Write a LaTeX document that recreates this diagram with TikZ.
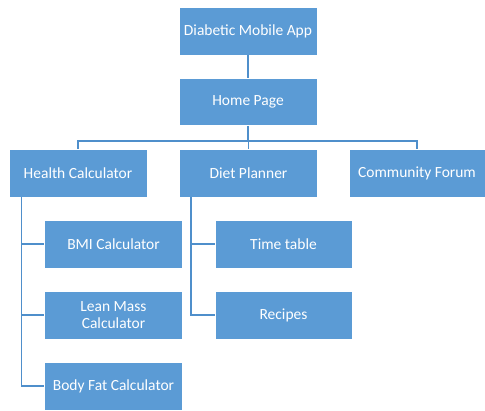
\documentclass[tikz,border=0pt]{standalone}
\usepackage{fontspec}
\setmainfont{Carlito}
\definecolor{boxblue}{HTML}{5B9BD5}
\definecolor{lineblue}{HTML}{4F8FCB}
\tikzset{
  chartbox/.style={rectangle, fill=boxblue, draw=white, line width=0.8pt,
    text=white, font=\fontsize{15.5}{17}\selectfont, align=center,
    minimum width=138pt, minimum height=48pt, inner sep=1pt},
  link/.style={lineblue, line width=1.3pt}
}
\begin{document}
\begin{tikzpicture}[x=1pt,y=-1pt]
    \useasboundingbox (0,0) rectangle (485,410);
    % Top of the chart
    \node[chartbox] (app) at (248,31) {Diabetic Mobile App};
    \node[chartbox, minimum height=47pt] (home) at (248,102) {Home Page};
    % Second row
    \node[chartbox] (health) at (78,173) {Health Calculator};
    \node[chartbox] (diet) at (248.5,173) {Diet Planner};
    \node[chartbox, minimum width=136pt] (forum) at (417,173) {Community Forum};
    % Calculators under health
    \node[chartbox] (bmi) at (113.5,244) {BMI Calculator};
    \node[chartbox] (lean) at (113.5,315) {Lean Mass\\Calculator};
    \node[chartbox] (fat) at (113.5,386) {Body Fat Calculator};
    % Pages under diet planner
    \node[chartbox, minimum width=137pt] (time) at (283.5,244) {Time table};
    \node[chartbox, minimum width=137pt] (recipes) at (283.5,315) {Recipes};
    % Vertical links and the bus line
    \coordinate (bus) at (0,141);
    \draw[link] (app) -- (home);
    \draw[link] (home) -- (home |- bus);
    \draw[link] (health.north) -- (health |- bus) -| (forum.north);
    \draw[link] (diet.north) -- (diet |- bus);
    % Trunk lines on the left side of each group
    \coordinate (htrunk) at ([xshift=13pt]health.south west);
    \coordinate (dtrunk) at ([xshift=12pt]diet.south west);
    \draw[link] (htrunk) |- (bmi.west);
    \draw[link] (htrunk) |- (lean.west);
    \draw[link] (htrunk) |- (fat.west);
    \draw[link] (dtrunk) |- (time.west);
    \draw[link] (dtrunk) |- (recipes.west);
\end{tikzpicture}
\end{document}
